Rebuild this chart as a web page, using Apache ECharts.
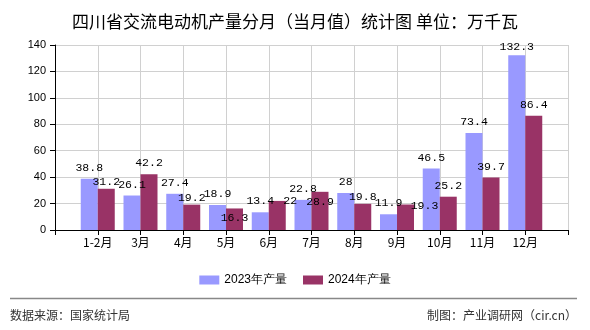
<!DOCTYPE html>
<html>
<head>
<meta charset="utf-8">
<script src="https://cdn.jsdelivr.net/npm/echarts@6/dist/echarts.min.js"></script>
<style>html,body{margin:0;padding:0;background:#fff}#c{width:590px;height:330px}</style>
</head>
<body>
<div id="c"></div>
<script>
var months = ['1-2月','3月','4月','5月','6月','7月','8月','9月','10月','11月','12月'];
var values2023 = [38.8, 26.1, 27.4, 18.9, 13.4, 22.8, 28, 11.9, 46.5, 73.4, 132.3];
var values2024 = [31.2, 42.2, 19.2, 16.3, 22, 28.9, 19.8, 19.3, 25.2, 39.7, 86.4];
var seriesNames = ['2023年产量', '2024年产量'];
var yTicks = [0, 20, 40, 60, 80, 100, 120, 140];

// label nudges (style only), [dx, dy] per month
var nudge2023 = [[0,0],[0,0],[0,0],[0,0],[0,0],[0,0],[0,0],[0,0],[0,0],[0,0],[0,3]];
var nudge2024 = [[0,4],[0,0],[0,4],[0,20],[13,11],[0,21],[0,4],[19,12],[0,0],[0,0],[0,0]];

var cats = [''].concat(months).concat(['']);
function build(vals, nudges) {
  var out = ['-'];
  vals.forEach(function (v, i) {
    out.push({ value: v, label: { offset: nudges[i] } });
  });
  out.push('-');
  return out;
}
var labelStyle = {
  show: true, position: 'top', distance: 5,
  fontFamily: 'Liberation Mono', fontSize: 11.5, color: '#000'
};
var chart = echarts.init(document.getElementById('c'), null, { renderer: 'canvas' });
chart.setOption({
  animation: false,
  backgroundColor: '#fff',
  title: {
    text: '四川省交流电动机产量分月（当月值）统计图 单位：万千瓦',
    left: 'center', top: 8,
    textStyle: { fontFamily: 'Noto Sans CJK SC', fontSize: 17, fontWeight: 'normal', color: '#000' }
  },
  legend: {
    top: 269, left: 'center',
    icon: 'rect', itemWidth: 20, itemHeight: 9, itemGap: 16,
    textStyle: { fontFamily: 'Liberation Sans', fontSize: 12, color: '#000' },
    data: seriesNames
  },
  grid: { left: 55, right: 22, top: 45, bottom: 100, containLabel: false },
  xAxis: {
    type: 'category', data: cats, boundaryGap: false,
    axisLine: { lineStyle: { color: '#000', width: 1 } },
    axisTick: { show: true, length: 5, lineStyle: { color: '#000' } },
    axisLabel: { margin: 6, fontFamily: 'Noto Sans CJK SC', fontSize: 12, color: '#000', interval: 0 },
    splitLine: { show: true, lineStyle: { color: '#d0d0d0', width: 1 } }
  },
  yAxis: {
    type: 'value', min: yTicks[0], max: yTicks[yTicks.length - 1], interval: yTicks[1] - yTicks[0],
    axisLine: { show: true, lineStyle: { color: '#000', width: 1 } },
    axisTick: { show: true, length: 5, lineStyle: { color: '#000' } },
    axisLabel: { margin: 9, fontFamily: 'Liberation Sans', fontSize: 11, color: '#000' },
    splitLine: { show: true, lineStyle: { color: '#d0d0d0', width: 1 } }
  },
  series: [
    { name: seriesNames[0], type: 'bar', barWidth: 17, barGap: '0%',
      itemStyle: { color: '#9999FF' }, label: labelStyle, data: build(values2023, nudge2023) },
    { name: seriesNames[1], type: 'bar', barWidth: 17, barGap: '0%',
      itemStyle: { color: '#993366' }, label: labelStyle, data: build(values2024, nudge2024) }
  ],
  graphic: [
    { type: 'line', shape: { x1: 10, y1: 298.5, x2: 577, y2: 298.5 }, style: { stroke: '#888', lineWidth: 1.5 } },
    { type: 'text', left: 10, top: 309, style: { text: '数据来源：国家统计局', font: '12px "Noto Sans CJK SC"', fill: '#333' } },
    { type: 'text', right: 13, top: 309, style: { text: '制图：产业调研网（cir.cn）', font: '12px "Noto Sans CJK SC"', fill: '#333' } }
  ]
});
</script>
</body>
</html>
